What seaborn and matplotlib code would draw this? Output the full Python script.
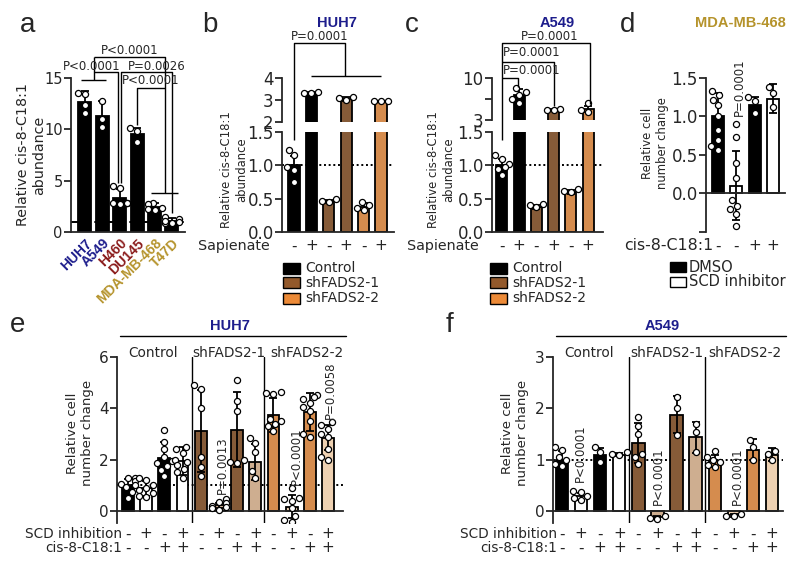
import matplotlib
matplotlib.use("Agg")
import matplotlib.pyplot as plt
import pandas as pd
import seaborn as sns
from matplotlib.patches import Rectangle
from matplotlib.transforms import blended_transform_factory

# ---- data -------------------------------------------------------------
a_lines = ["HUH7", "A549", "H460", "DU145", "MDA-MB-468", "T47D"]
a_mean = [12.7, 11.3, 3.3, 9.5, 2.4, 1.1]
a_err = [1.0, 1.5, 0.85, 0.6, 0.45, 0.3]
a_points = [[13.5, 13.4, 11.6, 12.4], [12.8, 11.0, 10.2],
            [4.5, 4.3, 2.8, 2.8, 2.8, 2.7], [10.1, 9.8, 8.8],
            [2.8, 2.7, 2.3, 2.1, 2.2], [1.5, 1.3, 1.0, 0.9, 0.9, 1.1]]

b_mean = [1.0, 3.32, 0.46, 3.05, 0.38, 2.92]
b_err = [0.14, 0.05, 0.02, 0.1, 0.05, 0.03]
b_points = [[1.23, 1.15, 0.98, 0.93, 0.75], [3.38, 3.33, 3.3], [0.49, 0.47, 0.45],
            [3.15, 3.1, 2.98], [0.45, 0.41, 0.36, 0.33], [2.96, 2.95, 2.94]]

c_mean = [1.0, 7.2, 0.38, 4.7, 0.6, 4.9]
c_err = [0.1, 1.0, 0.03, 0.1, 0.03, 0.5]
c_points = [[1.15, 1.1, 1.02, 0.98, 0.95, 0.86], [8.3, 7.7, 7.2, 6.5, 5.9],
            [0.42, 0.4, 0.37], [4.8, 4.7, 4.65], [0.65, 0.62, 0.6], [5.8, 4.7, 4.4]]
sapienate = ["-", "+", "-", "+", "-", "+"]

d_mean = [1.0, 0.1, 1.15, 1.23]
d_err = [0.3, 0.45, 0.1, 0.19]
d_points = [[1.33, 1.28, 1.22, 1.15, 1.0, 0.83, 0.70, 0.62, 0.57],
            [0.9, 0.73, 0.39, 0.2, -0.09, -0.16, -0.2, -0.26, -0.42],
            [1.25, 1.2, 1.05], [1.38, 1.3, 1.12]]
d_cis = ["-", "-", "+", "+"]

e_mean = [1.0, 0.88, 2.08, 1.95, 3.12, 0.22, 3.17, 1.92, 3.74, 0.16, 3.86, 2.86]
e_err = [0.25, 0.3, 0.6, 0.55, 1.6, 0.1, 1.45, 0.7, 0.68, 0.45, 0.75, 0.5]
e_points = [[1.3, 1.28, 1.15, 1.05, 1.0, 0.95, 0.75, 0.5],
            [1.3, 1.2, 1.0, 0.9, 0.8, 0.7, 0.6, 0.55],
            [3.15, 2.7, 2.4, 2.1, 1.95, 1.85, 1.75, 1.6, 1.35],
            [2.5, 2.4, 2.25, 2.0, 1.9, 1.8, 1.65, 1.5, 1.3],
            [4.9, 4.75, 4.0, 2.1, 1.7, 1.35],
            [0.45, 0.35, 0.3, 0.2, 0.15, 0.1, 0.05],
            [5.1, 4.3, 3.9, 2.0, 1.9, 1.85],
            [2.85, 2.65, 2.3, 1.55, 1.3],
            [4.65, 4.6, 4.55, 3.6, 3.5, 3.4, 3.3, 3.1],
            [0.9, 0.5, 0.45, 0.4, 0.1, -0.2, -0.35, -0.45],
            [4.5, 4.45, 4.35, 4.2, 4.05, 3.9, 3.5, 3.0, 2.9],
            [3.45, 3.35, 3.2, 3.0, 2.9, 2.4, 2.1, 2.0]]

f_mean = [1.0, 0.29, 1.1, 1.1, 1.32, -0.12, 1.88, 1.44, 0.97, -0.08, 1.2, 1.1]
f_err = [0.17, 0.07, 0.13, 0.03, 0.39, 0.02, 0.36, 0.3, 0.12, 0.03, 0.2, 0.12]
f_points = [[1.25, 1.2, 1.05, 1.0, 0.92, 0.88], [0.4, 0.38, 0.3, 0.25, 0.22],
            [1.25, 1.15, 0.95], [1.15, 1.12, 1.1],
            [1.84, 1.65, 1.5, 1.12, 1.05, 0.92], [-0.1, -0.13, -0.15],
            [2.22, 2.0, 1.48], [1.7, 1.55, 1.15],
            [1.18, 1.05, 1.0, 0.95, 0.9, 0.85], [-0.05, -0.09, -0.1],
            [1.38, 1.25, 1.0], [1.18, 1.12, 1.0]]
scd_row = ["-", "+", "-", "+"] * 3
cis_row = ["-", "-", "+", "+"] * 3
groups = ["Control", "shFADS2-1", "shFADS2-2"]

BROWN, TAN, ORANGE, PEACH = "#93592b", "#d8ad86", "#ec8a37", "#f8d1a8"
NAVY, MAROON, GOLD = "#1d1d8c", "#8b1c1c", "#b5932b"
a_colors = ["black"] * 6
a_label_colors = [NAVY, NAVY, MAROON, MAROON, GOLD, GOLD]
bc_colors = ["black", "black", BROWN, BROWN, ORANGE, ORANGE]
d_colors = ["black", "white", "black", "white"]
ef_colors = ["black", "white", "black", "white", BROWN, TAN, BROWN, TAN,
             ORANGE, PEACH, ORANGE, PEACH]

# ---- helpers ----------------------------------------------------------
sns.set_style("ticks")
plt.rcParams["font.family"] = ["DejaVu Sans"]
plt.rcParams["font.size"] = 10

W, H = 800, 569
fig = plt.figure(figsize=(W / 100, H / 100), dpi=100)


def add_ax(x0, y0, x1, y1):
    return fig.add_axes([x0 / W, 1 - y1 / H, (x1 - x0) / W, (y1 - y0) / H])


def fy(ypx):
    return 1 - ypx / H


def ftext(xpx, ypx, s, **kw):
    fig.text(xpx / W, fy(ypx), s, **kw)


def xd(ax):
    return blended_transform_factory(ax.transData, fig.transFigure)


def path(ax, xs, ys):
    ax.plot(xs, [fy(y) for y in ys], transform=xd(ax), color="black", lw=1.0,
            clip_on=False, solid_capstyle="butt")


def draw_bars(ax, means, errs, points, colors, width):
    keys = [f"k{i}" for i in range(len(means))]
    df = pd.DataFrame({"key": keys, "mean": means})
    sns.barplot(data=df, x="key", y="mean", hue="key", order=keys, hue_order=keys,
                palette=dict(zip(keys, colors)), width=width, edgecolor="black",
                linewidth=1.3, errorbar=None, legend=False, ax=ax)
    ax.errorbar(range(len(keys)), means, yerr=errs, fmt="none", ecolor="black",
                elinewidth=1.3, capsize=3, capthick=1.3, zorder=2)
    pts = pd.DataFrame([(k, v) for k, vals in zip(keys, points) for v in vals],
                       columns=["key", "val"])
    n = len(ax.collections)
    sns.swarmplot(data=pts, x="key", y="val", order=keys, color="white",
                  edgecolor="black", linewidth=0.9, size=4.4, warn_thresh=1, ax=ax)
    for col in ax.collections[n:]:
        col.set_zorder(3)
    ax.set_xlabel("")
    ax.set_ylabel("")


def style(ax, xlim, ylim, yticks, ylabels, tsize, zero_spine=False):
    ax.set_xlim(*xlim)
    ax.set_ylim(*ylim)
    ax.set_yticks(yticks)
    ax.set_yticklabels(ylabels)
    ax.set_xticks([])
    sns.despine(ax=ax)
    for s in ["left", "bottom"]:
        ax.spines[s].set_linewidth(1.3)
    if zero_spine:
        ax.spines["bottom"].set_position(("data", 0))
    ax.tick_params(axis="y", length=5, width=1.3, labelsize=tsize, pad=1)
    ax.patch.set_alpha(0)


def refline(ax, ls):
    ax.axhline(1, color="black", lw=1.4, ls=ls, zorder=0.5)


def ylab(xpx, ypx, s, size):
    ftext(xpx, ypx, s, rotation=90, ha="center", va="center", fontsize=size,
          multialignment="center")


DOT = (0, (1, 1.4))
PSIZE = 8.5

# ---- panel a ------------------------------------------------------------
ax = add_ax(71, 78, 185, 232)
draw_bars(ax, a_mean, a_err, a_points, a_colors, 0.75)
refline(ax, (0, (4, 2)))
style(ax, (-0.8, 5.75), (0, 15), [0, 5, 10, 15], ["0", "5", "10", "15"], 10.5)
ax.set_xticks(range(6))
ax.set_xticklabels(a_lines, rotation=45, ha="right", rotation_mode="anchor",
                   fontweight="bold", fontsize=10, family="Liberation Sans")
for lab, c in zip(ax.get_xticklabels(), a_label_colors):
    lab.set_color(c)
ax.tick_params(axis="x", length=0, pad=3)
path(ax, [-0.2, 1.2], [80, 80])
path(ax, [0.5, 0.5], [80, 57])
path(ax, [0.5, 1.9, 1.9], [72, 72, 183])
path(ax, [0.5, 4.6, 4.6], [57, 57, 193])
path(ax, [2.05, 2.05, 5.0, 5.0], [183, 72, 72, 213])
path(ax, [3.0, 3.0, 4.6], [125, 88, 88])
path(ax, [3.8, 5.35], [193, 193])
for x, y, s in [(2.55, 51, "P<0.0001"), (0.4, 66, "P<0.0001"),
                (4.15, 66, "P=0.0026"), (3.75, 81, "P<0.0001")]:
    ax.text(x, fy(y), s, transform=xd(ax), ha="center", va="center", fontsize=PSIZE)
ylab(31, 155, "Relative cis-8-C18:1\nabundance", 10.3)


# ---- panels b, c (broken axes) -------------------------------------------
def broken_panel(x0, x1, top_px, top_lim, top_ticks, top_labels, means, errs,
                 points, xlim):
    axt = add_ax(x0, 78, x1, top_px)
    axb = add_ax(x0, 132, x1, 232)
    for axx in (axt, axb):
        draw_bars(axx, means, errs, points, bc_colors, 0.64)
    refline(axb, DOT)
    style(axb, xlim, (0, 1.5), [0, 0.5, 1.0, 1.5], ["0.0", "0.5", "1.0", "1.5"], 12)
    style(axt, xlim, top_lim, top_ticks, top_labels, 12)
    axt.spines["bottom"].set_visible(False)
    for i, s in enumerate(sapienate):
        axb.text(i, fy(246), s, transform=xd(axb), ha="center", va="center",
                 fontsize=11)
    return axt, axb


axt, axb = broken_panel(282, 394, 122, (2, 4), [2, 3, 4], ["2", "3", "4"],
                        b_mean, b_err, b_points, (-0.69, 5.75))
path(axb, [0, 0, 2.95, 2.95], [140, 43, 43, 76])
path(axb, [0.95, 5.0], [76, 76])
axb.text(1.5, fy(36), "P=0.0001", transform=xd(axb), ha="center", va="center",
         fontsize=PSIZE)
ftext(270, 246, "Sapienate", ha="right", va="center", fontsize=10.3)
ylab(234, 170, "Relative cis-8-C18:1\nabundance", 8.4)

axt, axb = broken_panel(492, 603, 120, (3, 10), [3, 6.5, 10], ["3", "", "10"],
                        c_mean, c_err, c_points, (-0.58, 5.87))
path(axb, [0, 0, 5.1, 5.1], [140, 43, 43, 104])
path(axb, [0, 3.05, 3.05], [62, 62, 106])
path(axb, [0, 0.95, 0.95], [78, 78, 87])
axb.text(2.8, fy(37), "P=0.0001", transform=xd(axb), ha="center", va="center", fontsize=PSIZE)
axb.text(1.7, fy(53), "P=0.0001", transform=xd(axb), ha="center", va="center", fontsize=PSIZE)
axb.text(1.7, fy(71), "P=0.0001", transform=xd(axb), ha="center", va="center", fontsize=PSIZE)
ftext(479, 246, "Sapienate", ha="right", va="center", fontsize=10.3)
ylab(441, 170, "Relative cis-8-C18:1\nabundance", 8.4)

# legends b, c
for lx in (283, 490):
    for i, (lab, c) in enumerate(zip(["Control", "shFADS2-1", "shFADS2-2"],
                                     ["black", BROWN, ORANGE])):
        yc = 268 + 15 * i
        fig.add_artist(Rectangle((lx / W, fy(yc + 5.5)), 17 / W, 11 / H,
                                 transform=fig.transFigure, facecolor=c,
                                 edgecolor="black", lw=1))
        ftext(lx + 22, yc, lab, ha="left", va="center", fontsize=10)

# ---- panel d ------------------------------------------------------------
ax = add_ax(706, 78, 785, 232)
draw_bars(ax, d_mean, d_err, d_points, d_colors, 0.65)
style(ax, (-0.65, 3.65), (-0.5, 1.5), [-0.5, 0, 0.5, 1.0, 1.5],
      ["", "0.0", "0.5", "1.0", "1.5"], 12, zero_spine=True)
ax.text(1.15, fy(87), "P=0.0001", transform=xd(ax), rotation=90, ha="center",
        va="center", fontsize=PSIZE)
for i, s in enumerate(d_cis):
    ax.text(i, fy(246), s, transform=xd(ax), ha="center", va="center", fontsize=11)
ftext(713, 246, "cis-8-C18:1", ha="right", va="center", fontsize=11.3)
ylab(655, 143, "Relative cell\nnumber change", 8.4)
for i, (lab, c) in enumerate(zip(["DMSO", "SCD inhibitor"], ["black", "white"])):
    yc = 267 + 15 * i
    fig.add_artist(Rectangle((670 / W, fy(yc + 5)), 16 / W, 10 / H,
                             transform=fig.transFigure, facecolor=c,
                             edgecolor="black", lw=1))
    ftext(689, yc, lab, ha="left", va="center", fontsize=10.5)


# ---- panels e, f ---------------------------------------------------------
def cell_panel(x0, x1, means, errs, points, ylim, yticks, xlim, label_x,
               title, title_x, group_x, ptexts):
    ax = add_ax(x0, 357, x1, 523)
    draw_bars(ax, means, errs, points, ef_colors, 0.65)
    refline(ax, DOT)
    style(ax, xlim, ylim, yticks, [str(t) for t in yticks], 11, zero_spine=True)
    for xs in (3.5, 7.5):
        ax.axvline(xs, color="black", lw=1.0, zorder=0.5)
    for i, (s1, s2) in enumerate(zip(scd_row, cis_row)):
        ax.text(i, fy(534), s1, transform=xd(ax), ha="center", va="center", fontsize=11)
        ax.text(i, fy(548), s2, transform=xd(ax), ha="center", va="center", fontsize=11)
    ftext(label_x, 534, "SCD inhibition", ha="right", va="center", fontsize=9.8)
    ftext(label_x, 548, "cis-8-C18:1", ha="right", va="center", fontsize=9.8)
    for gx, g in zip(group_x, groups):
        ftext(gx, 353, g, ha="center", va="center", fontsize=9.8)
    fig.add_artist(plt.Line2D([(x0 + 3) / W, (x1 + 3) / W], [fy(336), fy(336)],
                              transform=fig.transFigure, color="black", lw=1.0))
    ftext(title_x, 326, title, ha="center", va="center", fontsize=10.5,
          fontweight="bold", color=NAVY, family="Liberation Sans")
    for x, y, s in ptexts:
        ftext(x, y, s, rotation=90, ha="center", va="center", fontsize=PSIZE)
    return ax


cell_panel(117, 343, e_mean, e_err, e_points, (-0.47, 6), [0, 2, 4, 6],
           (-0.6, 11.82), 122, "HUH7", 230, [153, 229, 307],
           [(222, 465, "P=0.0013"), (296, 456, "P<0.0001"), (330, 390, "P=0.0058")])
ylab(80, 433, "Relative cell\nnumber change", 9.6)

cell_panel(553, 783, f_mean, f_err, f_points, (-0.23, 3), [0, 1, 2, 3],
           (-0.47, 11.57), 557, "A549", 662, [589, 667, 745],
           [(580, 453, "P<0.0001"), (658, 476, "P<0.0001"), (737, 476, "P<0.0001")])
ylab(515, 433, "Relative cell\nnumber change", 9.6)

# ---- titles and panel letters -------------------------------------------
ftext(337, 23, "HUH7", ha="center", va="center", fontsize=10.5, fontweight="bold",
      color=NAVY, family="Liberation Sans")
ftext(557, 23, "A549", ha="center", va="center", fontsize=10.5, fontweight="bold",
      color=NAVY, family="Liberation Sans")
ftext(740, 23, "MDA-MB-468", ha="center", va="center", fontsize=10.5,
      fontweight="bold", color=GOLD, family="Liberation Sans")
for x, y, s in [(28, 25, "a"), (210, 25, "b"), (412, 25, "c"), (628, 25, "d"),
                (18, 325, "e"), (450, 325, "f")]:
    ftext(x, y, s, ha="center", va="center", fontsize=20, family="Liberation Sans")

fig.savefig("out.png", dpi=100)
